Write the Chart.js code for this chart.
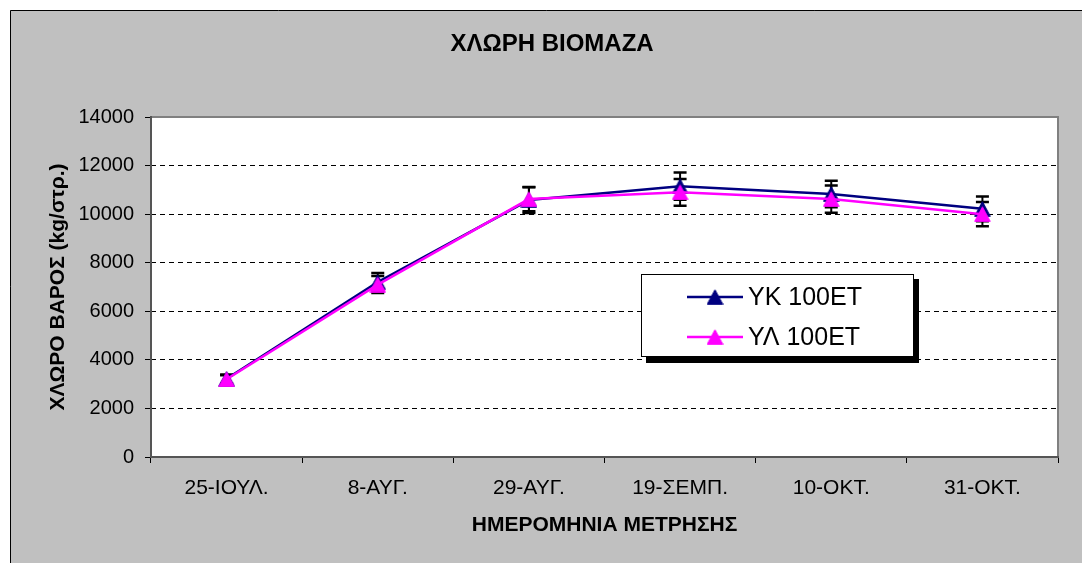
<!DOCTYPE html>
<html><head><meta charset="utf-8">
<script src="https://cdn.jsdelivr.net/npm/chart.js@4.4.0/dist/chart.umd.min.js"></script>
<style>html,body{margin:0;padding:0;background:#fff;overflow:hidden}canvas{display:block}</style>
</head><body>
<canvas id="c" width="1082" height="563"></canvas>
<script>
// ---- data ----
const categories = ['25-ΙΟΥΛ.', '8-ΑΥΓ.', '29-ΑΥΓ.', '19-ΣΕΜΠ.', '10-ΟΚΤ.', '31-ΟΚΤ.'];
const ykLabel = 'ΥΚ 100ΕΤ';
const ykValues = [3220, 7200, 10580, 11150, 10830, 10220];
const ykErrors = [180, 375, 530, 560, 550, 510];
const ylLabel = 'ΥΛ 100ΕΤ';
const ylValues = [3200, 7100, 10620, 10900, 10620, 10000];
const ylErrors = [170, 350, 500, 550, 560, 500];
const yTickValues = [0, 2000, 4000, 6000, 8000, 10000, 12000, 14000];

const FONT = "'Liberation Sans', Arial, sans-serif";
const NAVY = '#000080';
const MAGENTA = '#FF00FF';

function triangle(fill, stroke) {
  const c = document.createElement('canvas');
  c.width = 17; c.height = 16;
  const g = c.getContext('2d');
  g.beginPath();
  g.moveTo(8.5, 0.8); g.lineTo(16.3, 15.3); g.lineTo(0.7, 15.3); g.closePath();
  g.fillStyle = fill; g.fill();
  g.lineWidth = 1; g.strokeStyle = stroke; g.stroke();
  return c;
}
const ykMarker = triangle(NAVY, NAVY);
const ylMarker = triangle(MAGENTA, MAGENTA);

const background = {
  id: 'background',
  beforeDraw(chart) {
    const {ctx, chartArea: a} = chart;
    ctx.save();
    ctx.fillStyle = '#fff';
    ctx.fillRect(0, 0, chart.width, chart.height);
    ctx.fillStyle = '#C0C0C0';
    ctx.fillRect(10, 10, chart.width, chart.height);
    ctx.strokeStyle = '#000'; ctx.lineWidth = 1;
    ctx.beginPath();
    ctx.moveTo(10.5, chart.height); ctx.lineTo(10.5, 10.5); ctx.lineTo(chart.width, 10.5);
    ctx.stroke();
    ctx.fillStyle = '#fff';
    ctx.fillRect(a.left, a.top, a.right - a.left, a.bottom - a.top);
    ctx.restore();
  }
};

const errorBars = {
  id: 'errorBars',
  beforeDatasetsDraw(chart) {
    const {ctx, scales: {x, y}} = chart;
    ctx.save();
    ctx.strokeStyle = '#000';
    chart.data.datasets.forEach(ds => {
      ds.data.forEach((v, j) => {
        const e = ds.errors[j];
        const px = x.getPixelForValue(j);
        const t = y.getPixelForValue(v + e);
        const b = y.getPixelForValue(v - e);
        ctx.lineWidth = 2;
        ctx.beginPath(); ctx.moveTo(px, t); ctx.lineTo(px, b); ctx.stroke();
        ctx.lineWidth = 2.5;
        ctx.beginPath();
        ctx.moveTo(px - 6.5, t); ctx.lineTo(px + 6.5, t);
        ctx.moveTo(px - 6.5, b); ctx.lineTo(px + 6.5, b);
        ctx.stroke();
      });
    });
    ctx.restore();
  }
};

const frameAndLegend = {
  id: 'frameAndLegend',
  afterDraw(chart) {
    const {ctx, chartArea: a} = chart;
    ctx.save();
    ctx.strokeStyle = '#808080'; ctx.lineWidth = 2;
    ctx.beginPath();
    ctx.moveTo(a.left, a.top); ctx.lineTo(a.right, a.top); ctx.lineTo(a.right, a.bottom);
    ctx.stroke();
    ctx.strokeStyle = '#555';
    ctx.beginPath();
    ctx.moveTo(a.left, a.top - 1); ctx.lineTo(a.left, a.bottom); ctx.lineTo(a.right + 1, a.bottom);
    ctx.stroke();

    // legend
    const lx = 641, ly = 274, lw = 272, lh = 82;
    ctx.fillStyle = '#000';
    ctx.fillRect(lx + 5, ly + 5, lw + 1, lh + 2);
    ctx.fillStyle = '#fff';
    ctx.fillRect(lx, ly, lw, lh);
    ctx.strokeStyle = '#000'; ctx.lineWidth = 1;
    ctx.strokeRect(lx + 0.5, ly + 0.5, lw, lh);
    const rows = [297, 337];
    chart.data.datasets.forEach((ds, i) => {
      const ry = rows[i];
      ctx.strokeStyle = ds.borderColor; ctx.lineWidth = 2.5;
      ctx.beginPath(); ctx.moveTo(687, ry); ctx.lineTo(743, ry); ctx.stroke();
      const m = ds.pointStyle;
      ctx.drawImage(m, 715 - m.width / 2, ry - m.height / 2);
      ctx.fillStyle = '#000';
      ctx.font = '25px ' + FONT;
      ctx.textAlign = 'left'; ctx.textBaseline = 'middle';
      ctx.fillText(ds.label, 748, ry + 1);
    });
    ctx.restore();
  }
};

new Chart(document.getElementById('c'), {
  type: 'line',
  data: {
    labels: categories,
    datasets: [
      {label: ykLabel, data: ykValues, errors: ykErrors, borderColor: NAVY, backgroundColor: NAVY,
       borderWidth: 2.5, pointStyle: ykMarker, pointRadius: 8, tension: 0, order: 2},
      {label: ylLabel, data: ylValues, errors: ylErrors, borderColor: MAGENTA, backgroundColor: MAGENTA,
       borderWidth: 2.5, pointStyle: ylMarker, pointRadius: 8, tension: 0, order: 1}
    ]
  },
  options: {
    responsive: false,
    devicePixelRatio: 1,
    animation: false,
    events: [],
    layout: {padding: {left: 46, right: 24, top: 0, bottom: 0}},
    plugins: {
      legend: {display: false},
      tooltip: {enabled: false},
      title: {
        display: true, text: 'ΧΛΩΡΗ ΒΙΟΜΑΖΑ', color: '#000',
        font: {family: FONT, size: 24, weight: 'bold'},
        padding: {top: 30, bottom: 58.2}
      }
    },
    scales: {
      x: {
        offset: true,
        grid: {display: true, drawOnChartArea: false, drawTicks: true, tickLength: 6,
               tickColor: '#000', tickWidth: 1, offset: true},
        border: {display: false},
        ticks: {color: '#000', font: {family: FONT, size: 21}, padding: 12.5,
                maxRotation: 0, autoSkip: false},
        title: {display: true, text: 'ΗΜΕΡΟΜΗΝΙΑ ΜΕΤΡΗΣΗΣ', color: '#000',
                font: {family: FONT, size: 21, weight: 'bold'}, padding: {top: 0, bottom: 25}},
        afterFit(s) { s.height = 106; }
      },
      y: {
        min: yTickValues[0], max: yTickValues[yTickValues.length - 1],
        afterBuildTicks(s) { s.ticks = yTickValues.map(v => ({value: v})); },
        grid: {color: '#000', lineWidth: 1, tickLength: 6, tickColor: '#000', tickBorderDash: []},
        border: {display: false, dash: [5, 4]},
        ticks: {color: '#000', font: {family: FONT, size: 20}, padding: 11,
                callback: v => String(v)},
        title: {display: true, text: 'ΧΛΩΡΟ ΒΑΡΟΣ (kg/στρ.)', color: '#000',
                font: {family: FONT, size: 21, weight: 'bold'}, padding: {top: 0, bottom: 0}},
        afterFit(s) { s.width = 105; }
      }
    }
  },
  plugins: [background, errorBars, frameAndLegend]
});
</script>
</body></html>
